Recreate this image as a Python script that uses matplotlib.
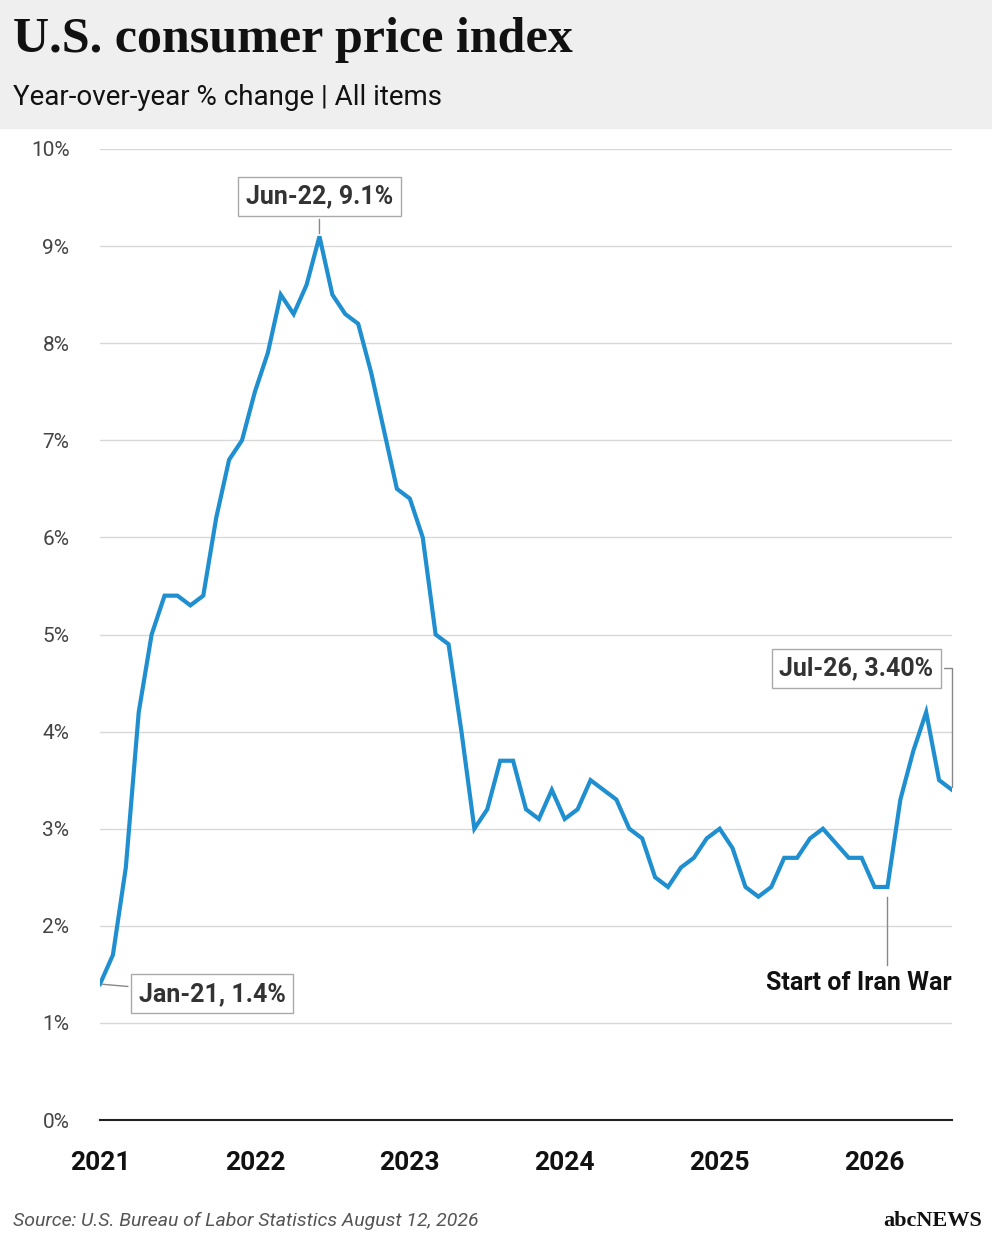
import numpy as np
import matplotlib.pyplot as plt
from matplotlib.patches import Rectangle

# monthly CPI yoy %, Jan-21 .. Jul-26
cpi_2021 = [1.4, 1.7, 2.6, 4.2, 5.0, 5.4, 5.4, 5.3, 5.4, 6.2, 6.8, 7.0]
cpi_2022 = [7.5, 7.9, 8.5, 8.3, 8.6, 9.1, 8.5, 8.3, 8.2, 7.7, 7.1, 6.5]
cpi_2023 = [6.4, 6.0, 5.0, 4.9, 4.0, 3.0, 3.2, 3.7, 3.7, 3.2, 3.1, 3.4]
cpi_2024 = [3.1, 3.2, 3.5, 3.4, 3.3, 3.0, 2.9, 2.5, 2.4, 2.6, 2.7, 2.9]
cpi_2025 = [3.0, 2.8, 2.4, 2.3, 2.4, 2.7, 2.7, 2.9, 3.0, 2.85, 2.7, 2.7]
cpi_2026 = [2.4, 2.4, 3.3, 3.8, 4.2, 3.5, 3.4]
cpi = cpi_2021 + cpi_2022 + cpi_2023 + cpi_2024 + cpi_2025 + cpi_2026
years = ['2021', '2022', '2023', '2024', '2025', '2026']
yticks = [0, 1, 2, 3, 4, 5, 6, 7, 8, 9, 10]

plt.rcParams['font.family'] = ['Roboto', 'DejaVu Sans']

x = 2021 + np.arange(len(cpi)) / 12.0

fig = plt.figure(figsize=(9.92, 12.4), dpi=100)
fig.patches.append(Rectangle((0, 1 - 128 / 1240), 1, 128 / 1240, transform=fig.transFigure,
                             color='#efefef', zorder=0))
fig.text(0.013, 0.968, 'U.S. consumer price index', fontsize=36, family='Liberation Serif',
         fontweight='bold', va='center', color='#111111')
fig.text(0.013, 0.921, 'Year-over-year % change | All items', fontsize=20, va='center', color='#111111')
fig.text(0.013, 0.015, 'Source: U.S. Bureau of Labor Statistics August 12, 2026', fontsize=14,
         style='italic', color='#555555', va='center')
fig.text(0.99, 0.015, 'abcNEWS', fontsize=16, fontweight='bold', family='Liberation Serif',
         ha='right', va='center', color='#111111')

ax = fig.add_axes([100 / 992, 120 / 1240, 852 / 992, 971 / 1240])
ax.plot(x, cpi, color='#1f8fd0', lw=3, solid_joinstyle='miter', zorder=3)
ax.set_xlim(2021, x[-1])
ax.set_ylim(0, 10)
ax.set_yticks(yticks)
ax.set_yticklabels([f'{v}%' for v in yticks], fontsize=15, color='#444444')
ax.set_xticks([int(y) for y in years])
ax.set_xticklabels(years, fontsize=19, fontweight='bold', color='#111111')
ax.tick_params(length=0, pad=22)
ax.grid(axis='y', color='#d8d8d8', lw=1)
for s in ['top', 'right', 'left']:
    ax.spines[s].set_visible(False)
ax.spines['bottom'].set_color('#222222')
ax.spines['bottom'].set_linewidth(1.5)
ax.set_axisbelow(True)

box = dict(boxstyle='square,pad=0.3', fc='white', ec='#aaaaaa', lw=1)
ax.annotate('Jan-21, 1.4%', xy=(x[0], cpi[0]), xytext=(2021.25, 1.3), fontsize=18,
            fontweight='bold', color='#333333', va='center', bbox=box,
            arrowprops=dict(arrowstyle='-', color='#888888', lw=1))
ax.annotate('Jun-22, 9.1%', xy=(x[17], cpi[17]), xytext=(x[17], 9.51), fontsize=18,
            fontweight='bold', color='#333333', ha='center', va='center', bbox=box,
            arrowprops=dict(arrowstyle='-', color='#888888', lw=1))
ax.annotate('Jul-26, 3.40%', xy=(x[-1], cpi[-1]), xytext=(x[-1] - 0.12, 4.65), fontsize=18,
            fontweight='bold', color='#333333', ha='right', va='center', bbox=box,
            arrowprops=dict(arrowstyle='-', color='#888888', lw=1,
                            connectionstyle='angle,angleA=0,angleB=90,rad=0'))
ax.plot([x[61], x[61]], [2.3, 1.6], color='#888888', lw=1)
ax.text(x[-1], 1.41, 'Start of Iran War', fontsize=18, fontweight='bold', color='#111111',
        ha='right', va='center')

fig.savefig('out.png', dpi=100)
